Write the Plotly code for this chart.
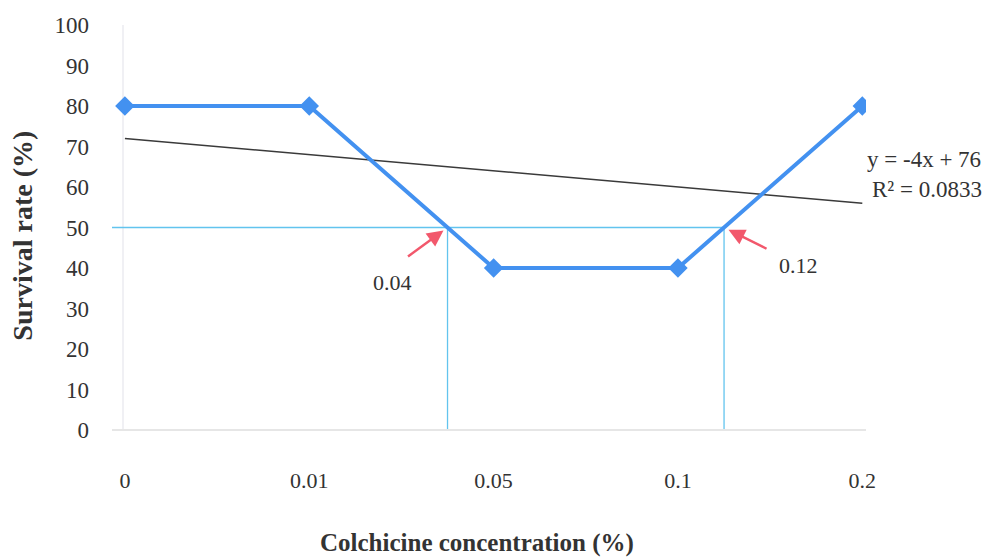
import plotly.graph_objects as go

categories = ["0", "0.01", "0.05", "0.1", "0.2"]
survival = [80, 80, 40, 40, 80]
trend_slope = -4
trend_intercept = 76
y_ticks = [0, 10, 20, 30, 40, 50, 60, 70, 80, 90, 100]
ld50_level = 50
ld50_labels = ["0.04", "0.12"]

xpos = list(range(len(categories)))
trend = [trend_slope * (i + 1) + trend_intercept for i in xpos]

# crossing points of the survival curve with the 50% level
cross = []
for i in range(len(survival) - 1):
    a, b = survival[i], survival[i + 1]
    if (a - ld50_level) * (b - ld50_level) < 0:
        cross.append(i + (ld50_level - a) / (b - a))

serif = "Liberation Serif, Times New Roman, serif"
txt = "#333333"
fig = go.Figure()

fig.add_trace(go.Scatter(x=xpos, y=trend, mode="lines",
                         line=dict(color="#3a3a3a", width=1.5), showlegend=False))
fig.add_trace(go.Scatter(x=xpos, y=survival, mode="lines+markers",
                         line=dict(color="#4391f0", width=4),
                         marker=dict(symbol="diamond", size=15, color="#4391f0"),
                         showlegend=False))

cyan = "#62c4ee"
fig.add_shape(type="line", x0=-0.07, x1=cross[-1], y0=ld50_level, y1=ld50_level,
              line=dict(color=cyan, width=1.3), layer="below")
for c in cross:
    fig.add_shape(type="line", x0=c, x1=c, y0=0, y1=ld50_level,
                  line=dict(color=cyan, width=1.3), layer="below")

# arrows and labels
red = "#f2586c"
fig.add_annotation(x=cross[0], y=ld50_level, ax=-41, ay=30, xref="x", yref="y",
                   showarrow=True, arrowhead=2, arrowsize=1.3, arrowwidth=2.5,
                   arrowcolor=red, standoff=5, text="")
fig.add_annotation(x=cross[1], y=ld50_level, ax=44, ay=22, xref="x", yref="y",
                   showarrow=True, arrowhead=2, arrowsize=1.3, arrowwidth=2.5,
                   arrowcolor=red, standoff=5, text="")
fig.add_annotation(x=cross[0], y=ld50_level, xref="x", yref="y", xshift=-55, yshift=-55,
                   text=ld50_labels[0], showarrow=False,
                   font=dict(family=serif, size=22, color=txt))
fig.add_annotation(x=cross[1], y=ld50_level, xref="x", yref="y", xshift=74, yshift=-38,
                   text=ld50_labels[1], showarrow=False,
                   font=dict(family=serif, size=22, color=txt))

fig.add_annotation(xref="paper", yref="paper", x=0.999, y=0.704, xanchor="left",
                   text=f"y = {trend_slope}x + {trend_intercept}", showarrow=False,
                   font=dict(family=serif, size=23, color=txt))
fig.add_annotation(xref="paper", yref="paper", x=1.005, y=0.593, xanchor="left",
                   text="R² = 0.0833", showarrow=False,
                   font=dict(family=serif, size=23, color=txt))

# axis titles
fig.add_annotation(xref="paper", yref="paper", x=0.484, y=-0.28, yanchor="middle",
                   text="<b>Colchicine concentration (%)</b>", showarrow=False,
                   font=dict(family=serif, size=25, color=txt))
fig.add_annotation(xref="paper", yref="paper", x=-0.118, y=0.48, xanchor="center",
                   text="<b>Survival rate (%)</b>", showarrow=False, textangle=-90,
                   font=dict(family=serif, size=28, color=txt))

fig.update_xaxes(range=[-0.07, 4.02], tickvals=xpos, ticktext=categories,
                 showgrid=False, zeroline=False, showline=False, ticks="",
                 ticklabelstandoff=35, automargin=False,
                 tickfont=dict(family=serif, size=22, color=txt))
fig.update_yaxes(range=[0, 100], tickvals=y_ticks, showgrid=False,
                 zeroline=True, zerolinecolor="#e6e6e6", zerolinewidth=2,
                 showline=False, ticks="", ticklabelstandoff=22, automargin=False,
                 tickfont=dict(family=serif, size=23, color=txt))
fig.add_shape(type="line", xref="x", yref="paper", x0=-0.01, x1=-0.01, y0=0, y1=1,
              line=dict(color="#f0f0f4", width=2), layer="below")

# the page body adds an 8px margin, so the figure is sized to fit the window
fig.update_layout(width=982, height=551, margin=dict(l=104, r=124, t=17, b=129),
                  plot_bgcolor="white", paper_bgcolor="white")

fig.write_html("out.html")
